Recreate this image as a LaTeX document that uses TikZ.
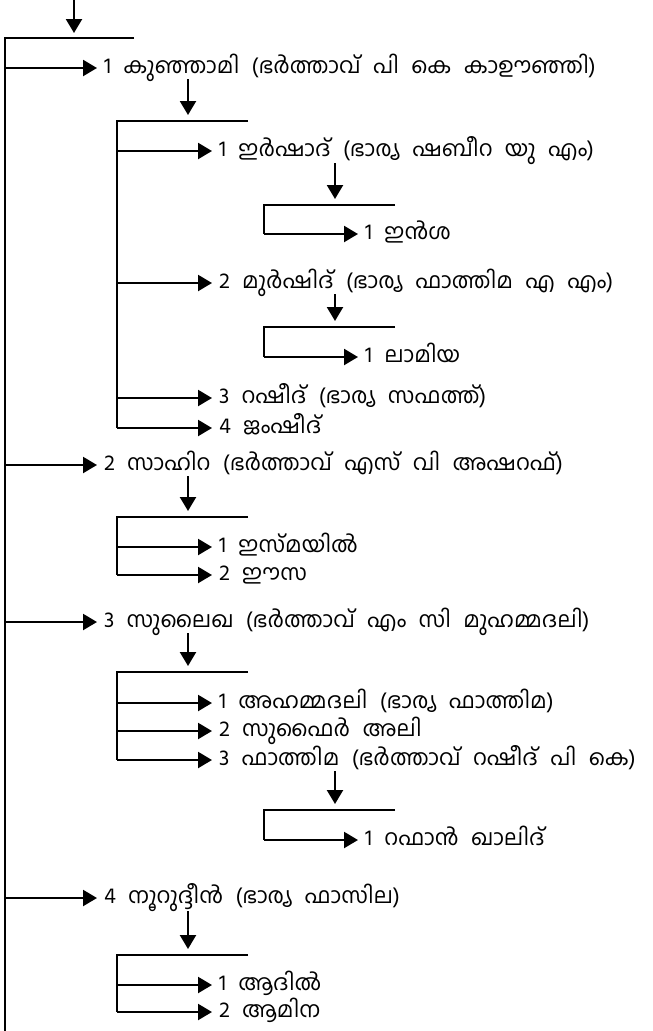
\documentclass[tikz,border=0pt]{standalone}
\usepackage{fontspec}
\newfontfamily\ml[Script=Malayalam,WordSpace=2.3]{Hind Kochi}
\usetikzlibrary{arrows.meta}
\begin{document}
\begin{tikzpicture}[x=1pt,y=-1pt,
  ln/.style={line width=2.2pt, line cap=butt, line join=miter},
  arr/.style={ln, -{Triangle[length=14pt,width=16pt]}},
  lbl/.style={anchor=west, inner xsep=7pt, inner ysep=0pt, outer sep=0pt,
    font=\ml\fontsize{22}{26}\selectfont, text height=15pt, text depth=4pt}]
\useasboundingbox (0,0) rectangle (653,1031);
% trunk
\coordinate (in) at (74,0);
\coordinate (inend) at (74,33);
\coordinate (c0) at (5,38);
\coordinate (c0r) at (134,38);
\coordinate (trunkend) at (5,1031);
\draw[arr] (in) -- (inend);
\draw[ln] (c0r) -- (c0) -- (trunkend);
% level 1 nodes
\node[lbl] (k1) at (97,68) {1 കുഞ്ഞാമി (ഭർത്താവ് പി കെ കാഊഞ്ഞി)};
\node[lbl] (s2) at (97,465) {2 സാഹിറ (ഭർത്താവ് എസ് വി അഷറഫ്)};
\node[lbl] (u3) at (97,622) {3 സുലൈഖ (ഭർത്താവ് എം സി മുഹമ്മദലി)};
\node[lbl] (n4) at (97,898) {4 നൂറുദ്ദീൻ (ഭാര്യ ഫാസില)};
\foreach \n in {k1,s2,u3,n4} \draw[arr] (\n.west -| c0) -- (\n.west);
% Kunjami family
\coordinate (k1a) at (188,79);
\coordinate (k1b) at (188,115);
\coordinate (kc) at (117,121);
\coordinate (kcr) at (248,121);
\draw[arr] (k1a) -- (k1b);
\node[lbl] (ir) at (212,151) {1 ഇർഷാദ് (ഭാര്യ ഷബീറ യു എം)};
\node[lbl] (mu) at (212,283) {2 മുർഷിദ് (ഭാര്യ ഫാത്തിമ എ എം)};
\node[lbl] (ra) at (212,398) {3 റഷീദ് (ഭാര്യ സഫത്ത്)};
\node[lbl] (ja) at (212,428) {4 ജംഷീദ്};
\draw[ln] (kcr) -- (kc) -- (ja.west -| kc);
\foreach \n in {ir,mu,ra,ja} \draw[arr] (\n.west -| kc) -- (\n.west);
% Irshad
\coordinate (ira) at (335,163);
\coordinate (irb) at (335,199);
\coordinate (ic) at (264,205);
\coordinate (icr) at (395,205);
\draw[arr] (ira) -- (irb);
\node[lbl] (in1) at (358,234) {1 ഇൻശ};
\draw[ln] (icr) -- (ic) -- (in1.west -| ic);
\draw[arr] (in1.west -| ic) -- (in1.west);
% Murshid
\coordinate (mua) at (335,294);
\coordinate (mub) at (335,321);
\coordinate (mc) at (264,327);
\coordinate (mcr) at (395,327);
\draw[arr] (mua) -- (mub);
\node[lbl] (la) at (358,357) {1 ലാമിയ};
\draw[ln] (mcr) -- (mc) -- (la.west -| mc);
\draw[arr] (la.west -| mc) -- (la.west);
% Sahira family
\coordinate (s2a) at (188,476);
\coordinate (s2b) at (188,511);
\coordinate (sc) at (117,517);
\coordinate (scr) at (248,517);
\draw[arr] (s2a) -- (s2b);
\node[lbl] (is) at (212,547) {1 ഇസ്മയിൽ};
\node[lbl] (ee) at (212,575) {2 ഈസ};
\draw[ln] (scr) -- (sc) -- (ee.west -| sc);
\foreach \n in {is,ee} \draw[arr] (\n.west -| sc) -- (\n.west);
% Sulaikha family
\coordinate (u3a) at (188,633);
\coordinate (u3b) at (188,666);
\coordinate (uc) at (117,672);
\coordinate (ucr) at (248,672);
\draw[arr] (u3a) -- (u3b);
\node[lbl] (ah) at (212,703) {1 അഹമ്മദലി (ഭാര്യ ഫാത്തിമ)};
\node[lbl] (sf) at (212,731) {2 സുഫൈർ അലി};
\node[lbl] (fa) at (212,760) {3 ഫാത്തിമ (ഭർത്താവ് റഷീദ് പി കെ)};
\draw[ln] (ucr) -- (uc) -- (fa.west -| uc);
\foreach \n in {ah,sf,fa} \draw[arr] (\n.west -| uc) -- (\n.west);
% Fathima
\coordinate (faa) at (335,771);
\coordinate (fab) at (335,804);
\coordinate (fc) at (264,810);
\coordinate (fcr) at (395,810);
\draw[arr] (faa) -- (fab);
\node[lbl] (rf) at (358,840) {1 റഫാൻ ഖാലിദ്};
\draw[ln] (fcr) -- (fc) -- (rf.west -| fc);
\draw[arr] (rf.west -| fc) -- (rf.west);
% Nooruddin family
\coordinate (n4a) at (188,911);
\coordinate (n4b) at (188,949);
\coordinate (nc) at (117,955);
\coordinate (ncr) at (248,955);
\draw[arr] (n4a) -- (n4b);
\node[lbl] (ad) at (212,985) {1 ആദിൽ};
\node[lbl] (am) at (212,1012) {2 ആമിന};
\draw[ln] (ncr) -- (nc) -- (am.west -| nc);
\foreach \n in {ad,am} \draw[arr] (\n.west -| nc) -- (\n.west);
\end{tikzpicture}
\end{document}
